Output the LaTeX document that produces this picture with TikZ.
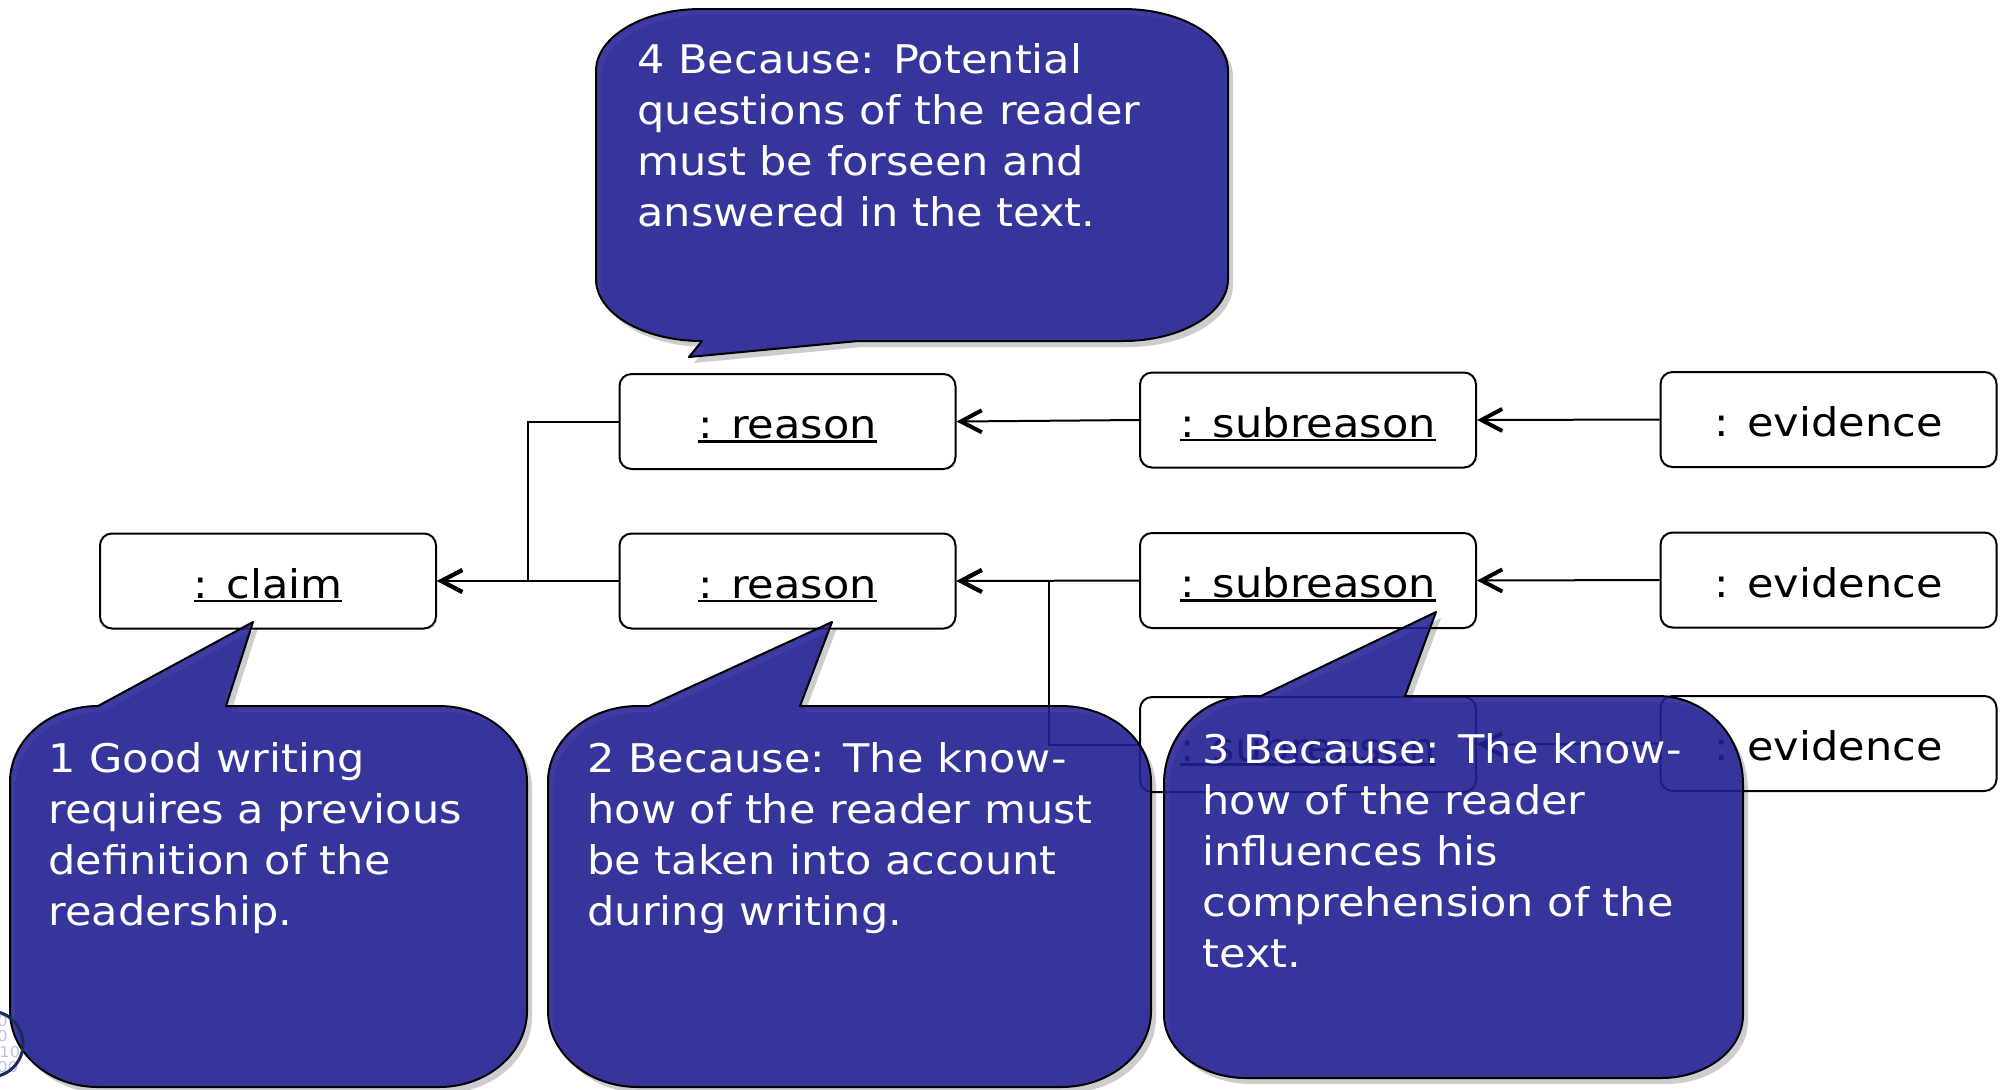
\documentclass[tikz,border=0pt]{standalone}
\usepackage{fontspec}
\setmainfont{DejaVu Sans}[FakeStretch=1.09]
\usetikzlibrary{arrows.meta}
\definecolor{bubblefill}{RGB}{33,33,150}
\definecolor{shadowgray}{RGB}{205,205,205}
\definecolor{logonavy}{RGB}{25,45,90}
\definecolor{logodigit}{RGB}{190,190,240}
\newcommand\fsz{\fontsize{19.75pt}{25.6pt}\selectfont}
\newcommand\ulbl[1]{\setbox0\hbox{#1}\leavevmode\rlap{\rule[-2pt]{\wd0}{1.2pt}}\box0}
\tikzset{
  objbox/.style={draw=black, line width=1pt, rounded corners=6pt, minimum width=168pt,
    minimum height=47.5pt, inner sep=0pt, font=\fsz, text=black, text height=17pt, text depth=0pt},
  conn/.style={line width=1pt, -{Straight Barb[length=10.5pt,width=11pt,line width=2pt]}},
  bubble/.style={draw=black, line width=1pt, fill=bubblefill, fill opacity=0.88, line join=round},
  bshadow/.style={fill=shadowgray},
  ctext/.style={text=white, font=\fsz, inner sep=0pt, anchor=base west},
  logod/.style={text=logodigit, font=\fontsize{7.5pt}{8pt}\selectfont, inner sep=0pt, anchor=base west},
  bubA/.style={insert path={(98,706) -- (253,622) -- (226,706) -- (439,706)
    .. controls (487.6,706) and (527,740) .. (527,782) -- (527,1011)
    .. controls (527,1053) and (487.6,1087) .. (439,1087) -- (98,1087)
    .. controls (49.4,1087) and (10,1053) .. (10,1011) -- (10,782)
    .. controls (10,740) and (49.4,706) .. (98,706) -- cycle}},
  bubB/.style={insert path={(638,706) -- (649,706) -- (832,622) -- (800,706) -- (1061,706)
    .. controls (1110.7,706) and (1151,740) .. (1151,782) -- (1151,1011)
    .. controls (1151,1053) and (1110.7,1087) .. (1061,1087) -- (638,1087)
    .. controls (588.3,1087) and (548,1053) .. (548,1011) -- (548,782)
    .. controls (548,740) and (588.3,706) .. (638,706) -- cycle}},
  bubC/.style={insert path={(1249,696) -- (1261,696) -- (1436,612) -- (1405,696) -- (1658,696)
    .. controls (1705,696) and (1743,735.4) .. (1743,784) -- (1743,1015)
    .. controls (1743,1049.8) and (1706.3,1078) .. (1661,1078) -- (1246,1078)
    .. controls (1200.7,1078) and (1164,1049.8) .. (1164,1015) -- (1164,784)
    .. controls (1164,735.4) and (1202,696) .. (1249,696) -- cycle}},
  bubD/.style={insert path={(701,9) -- (1123,9)
    .. controls (1181,9) and (1228,36.8) .. (1228,71) -- (1228,279)
    .. controls (1228,313.2) and (1181,341) .. (1123,341) -- (858,341) -- (689,357) -- (702,341)
    .. controls (643,341) and (596,313.2) .. (596,279) -- (596,71)
    .. controls (596,36.8) and (643,9) .. (701,9) -- cycle}}
}
\begin{document}
\begin{tikzpicture}[x=0.5pt,y=-0.5pt]
\useasboundingbox (0,0) rectangle (2006,1089);

% shadows
\fill[bshadow, shift={(5,6)}, bubA];
\fill[bshadow, shift={(5,6)}, bubB];
\fill[bshadow, shift={(5,6)}, bubC];
\fill[bshadow, shift={(5,6)}, bubD];

% object boxes
\node[objbox] (claim) at (268,581) {\ulbl{: claim}};
\node[objbox] (r1) at (787.5,421.5) {\ulbl{: reason}};
\node[objbox] (r2) at (787.5,581) {\ulbl{: reason}};
\node[objbox] (sr1) at (1308,420) {\ulbl{: subreason}};
\node[objbox] (sr2) at (1308,580.5) {\ulbl{: subreason}};
\node[objbox] (sr3) at (1308,744.5) {\ulbl{: subreason}};
\node[objbox] (ev1) at (1828.5,419.5) {: evidence};
\node[objbox] (ev2) at (1828.5,580) {: evidence};
\node[objbox] (ev3) at (1828.5,743.5) {: evidence};

% connectors
\coordinate (j1) at (528,581);
\coordinate (j2) at (1049,581);
\draw[conn] (r1.west) -| (j1) -- (claim.east);
\draw[conn] (r2.west) -- (claim.east);
\draw[conn] (sr1.west) -- (r1.east);
\draw[conn] (sr2.west) -- (r2.east);
\draw[conn] (sr3.west) -| (j2) -- (r2.east);
\draw[conn] (ev1.west) -- (sr1.east);
\draw[conn] (ev2.west) -- (sr2.east);
\draw[conn] (ev3.west) -- (sr3.east);

% logo digits (under callout)
\node[logod] (lg1) at (-3,1026) {0};
\node[logod] (lg2) at (-3,1041) {0};
\node[logod] (lg3) at (-1,1057) {10};
\node[logod] (lg4) at (-3,1072) {00};

% callouts
\path[bubble, bubA];
\path[bubble, bubB];
\path[bubble, bubC];
\path[bubble, bubD];

% logo ring
\draw[logonavy, line width=1.5pt] (-10,1044) circle[radius=33];

% callout texts
\node[ctext] (t1a) at (48,772) {1 Good writing};
\node[ctext] (t1b) at (48,823) {requires a previous};
\node[ctext] (t1c) at (48,874) {definition of the};
\node[ctext] (t1d) at (48,925) {readership.};

\node[ctext] (t2a) at (587,772) {2 Because: The know-};
\node[ctext] (t2b) at (587,823) {how of the reader must};
\node[ctext] (t2c) at (587,874) {be taken into account};
\node[ctext] (t2d) at (587,925) {during writing.};

\node[ctext] (t3a) at (1202,763) {3 Because: The know-};
\node[ctext] (t3b) at (1202,814) {how of the reader};
\node[ctext] (t3c) at (1202,865) {influences his};
\node[ctext] (t3d) at (1202,916) {comprehension of the};
\node[ctext] (t3e) at (1202,967) {text.};

\node[ctext] (t4a) at (637,73) {4 Because: Potential};
\node[ctext] (t4b) at (637,124) {questions of the reader};
\node[ctext] (t4c) at (637,175) {must be forseen and};
\node[ctext] (t4d) at (637,226) {answered in the text.};
\end{tikzpicture}
\end{document}
